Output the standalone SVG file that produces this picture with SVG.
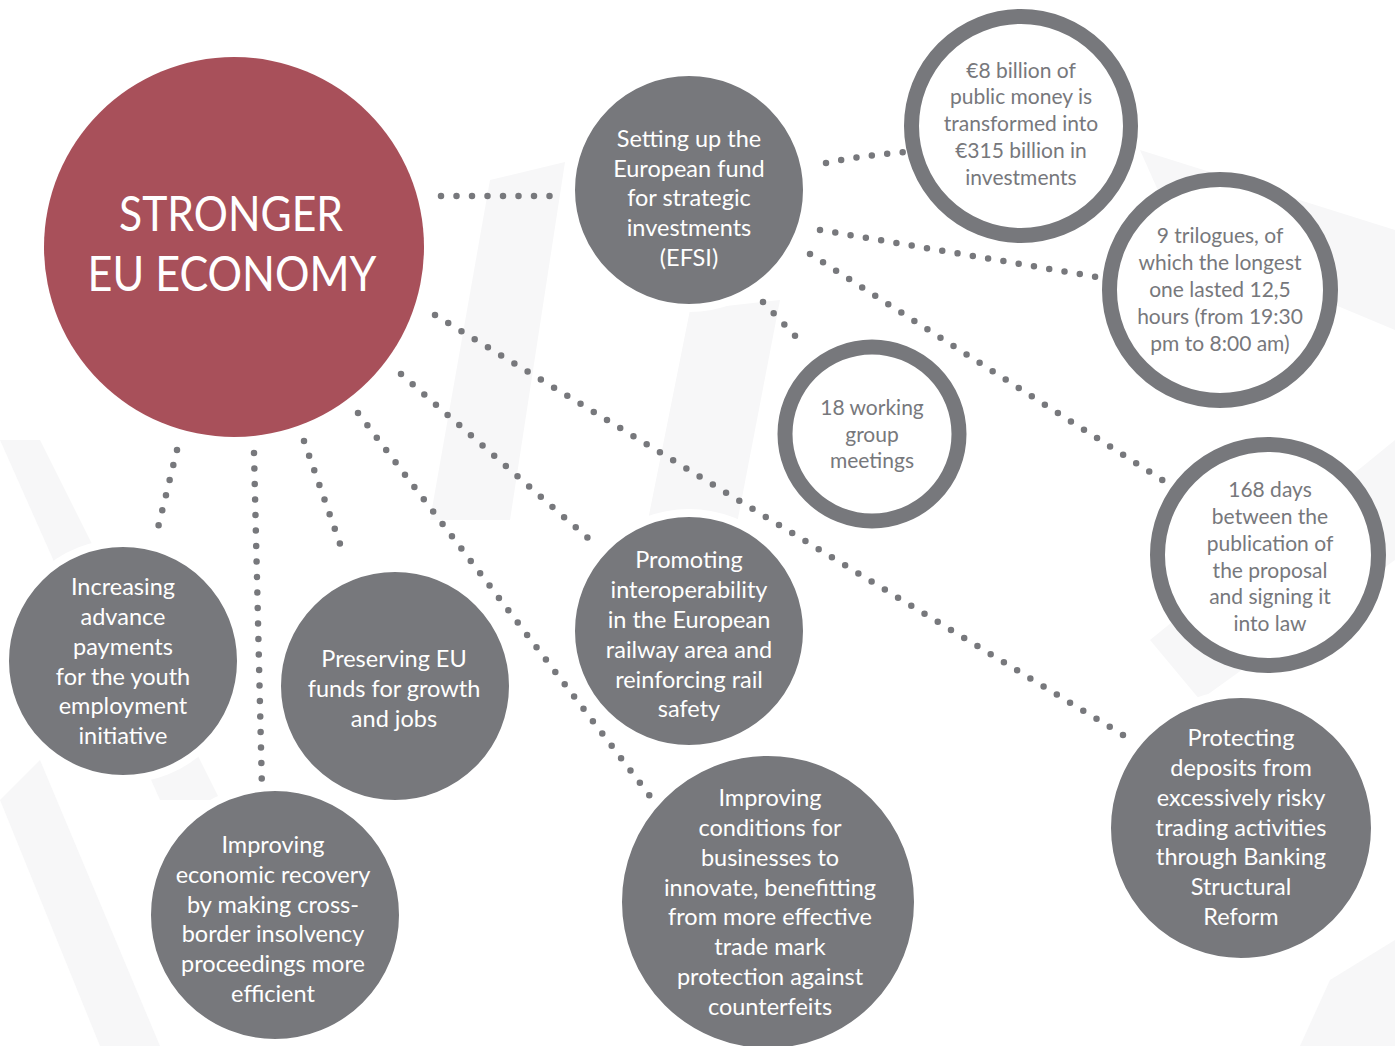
<svg xmlns="http://www.w3.org/2000/svg" width="1395" height="1046" viewBox="0 0 1395 1046">
<style>
.bg{fill:#f7f7f8}
.fill{fill:#77787c;stroke:#ffffff;stroke-width:8}
.main{fill:#a8505a}
.ring{fill:#ffffff;stroke:#77787c;stroke-width:15}
.dot{fill:none;stroke:#77787c;stroke-width:6.5;stroke-linecap:round;stroke-dasharray:0 15.5}
text{font-family:Lato,"Open Sans","Liberation Sans",sans-serif;text-anchor:middle}
.w{fill:#ffffff;font-size:23.5px}
.g{fill:#77787c;font-size:21px}
.t{fill:#ffffff;font-size:48px}
</style>
<g id="background">
<polygon class="bg" points="490,180 565,162 510,520 430,520"/>
<polygon class="bg" points="690,310 780,300 730,560 640,560"/>
<polygon class="bg" points="0,440 40,440 220,800 160,800"/>
<polygon class="bg" points="0,800 40,760 160,1046 100,1046"/>
<polygon class="bg" points="1140,150 1395,230 1395,330 1180,240"/>
<polygon class="bg" points="1395,440 1395,560 1200,700 1150,640"/>
<polygon class="bg" points="1330,980 1395,940 1395,1046 1300,1046"/>
</g>
<g id="connectors">
<path class="dot" d="M441,196 L551,196"/>
<path class="dot" d="M826,163 Q865,155 906,152"/>
<path class="dot" d="M820,230 L1097,277"/>
<path class="dot" d="M810,254 L1167,483"/>
<path class="dot" d="M763,302 L800,341"/>
<path class="dot" d="M435,315 L1128,738"/>
<path class="dot" d="M401,374 L589,539"/>
<path class="dot" d="M358,413 L656,804"/>
<path class="dot" d="M304,441 L345,558"/>
<path class="dot" d="M254,453 L262,790"/>
<path class="dot" d="M177,450 L155,540"/>
</g>
<g id="node-main">
<circle class="main" cx="234" cy="247" r="190"/>
<text class="t" x="231" y="231" textLength="224" lengthAdjust="spacingAndGlyphs">STRONGER</text>
<text class="t" x="232" y="291" textLength="289" lengthAdjust="spacingAndGlyphs">EU ECONOMY</text>
</g>
<g id="node-efsi">
<circle class="fill" cx="689" cy="190" r="118"/>
<text class="w" x="689" y="147">Setting up the</text>
<text class="w" x="689" y="177">European fund</text>
<text class="w" x="689" y="206">for strategic</text>
<text class="w" x="689" y="236">investments</text>
<text class="w" x="689" y="266">(EFSI)</text>
</g>
<g id="node-8billion">
<circle class="ring" cx="1021" cy="126" r="109.5"/>
<text class="g" x="1021" y="78">€8 billion of</text>
<text class="g" x="1021" y="104">public money is</text>
<text class="g" x="1021" y="131">transformed into</text>
<text class="g" x="1021" y="158">€315 billion in</text>
<text class="g" x="1021" y="185">investments</text>
</g>
<g id="node-trilogues">
<circle class="ring" cx="1220" cy="290" r="110.5"/>
<text class="g" x="1220" y="243">9 trilogues, of</text>
<text class="g" x="1220" y="270">which the longest</text>
<text class="g" x="1220" y="297">one lasted 12,5</text>
<text class="g" x="1220" y="324">hours (from 19:30</text>
<text class="g" x="1220" y="351">pm to 8:00 am)</text>
</g>
<g id="node-working">
<circle class="ring" cx="872" cy="434" r="87"/>
<text class="g" x="872" y="415">18 working</text>
<text class="g" x="872" y="442">group</text>
<text class="g" x="872" y="468">meetings</text>
</g>
<g id="node-168days">
<circle class="ring" cx="1268" cy="555" r="110.5"/>
<text class="g" x="1270" y="497">168 days</text>
<text class="g" x="1270" y="524">between the</text>
<text class="g" x="1270" y="551">publication of</text>
<text class="g" x="1270" y="578">the proposal</text>
<text class="g" x="1270" y="604">and signing it</text>
<text class="g" x="1270" y="631">into law</text>
</g>
<g id="node-protecting">
<circle class="fill" cx="1241" cy="828" r="134"/>
<text class="w" x="1241" y="746">Protecting</text>
<text class="w" x="1241" y="776">deposits from</text>
<text class="w" x="1241" y="806">excessively risky</text>
<text class="w" x="1241" y="836">trading activities</text>
<text class="w" x="1241" y="865">through Banking</text>
<text class="w" x="1241" y="895">Structural</text>
<text class="w" x="1241" y="925">Reform</text>
</g>
<g id="node-promoting">
<circle class="fill" cx="689" cy="631" r="118"/>
<text class="w" x="689" y="568">Promoting</text>
<text class="w" x="689" y="598">interoperability</text>
<text class="w" x="689" y="628">in the European</text>
<text class="w" x="689" y="658">railway area and</text>
<text class="w" x="689" y="688">reinforcing rail</text>
<text class="w" x="689" y="717">safety</text>
</g>
<g id="node-conditions">
<circle class="fill" cx="768" cy="902" r="150"/>
<text class="w" x="770" y="806">Improving</text>
<text class="w" x="770" y="836">conditions for</text>
<text class="w" x="770" y="866">businesses to</text>
<text class="w" x="770" y="896">innovate, benefitting</text>
<text class="w" x="770" y="925">from more effective</text>
<text class="w" x="770" y="955">trade mark</text>
<text class="w" x="770" y="985">protection against</text>
<text class="w" x="770" y="1015">counterfeits</text>
</g>
<g id="node-increasing">
<circle class="fill" cx="123" cy="661" r="118"/>
<text class="w" x="123" y="595">Increasing</text>
<text class="w" x="123" y="625">advance</text>
<text class="w" x="123" y="655">payments</text>
<text class="w" x="123" y="685">for the youth</text>
<text class="w" x="123" y="714">employment</text>
<text class="w" x="123" y="744">initiative</text>
</g>
<g id="node-preserving">
<circle class="fill" cx="395" cy="686" r="118"/>
<text class="w" x="394" y="667">Preserving EU</text>
<text class="w" x="394" y="697">funds for growth</text>
<text class="w" x="394" y="727">and jobs</text>
</g>
<g id="node-insolvency">
<circle class="fill" cx="275" cy="915" r="128"/>
<text class="w" x="273" y="853">Improving</text>
<text class="w" x="273" y="883">economic recovery</text>
<text class="w" x="273" y="913">by making cross-</text>
<text class="w" x="273" y="942">border insolvency</text>
<text class="w" x="273" y="972">proceedings more</text>
<text class="w" x="273" y="1002">efficient</text>
</g>
</svg>
